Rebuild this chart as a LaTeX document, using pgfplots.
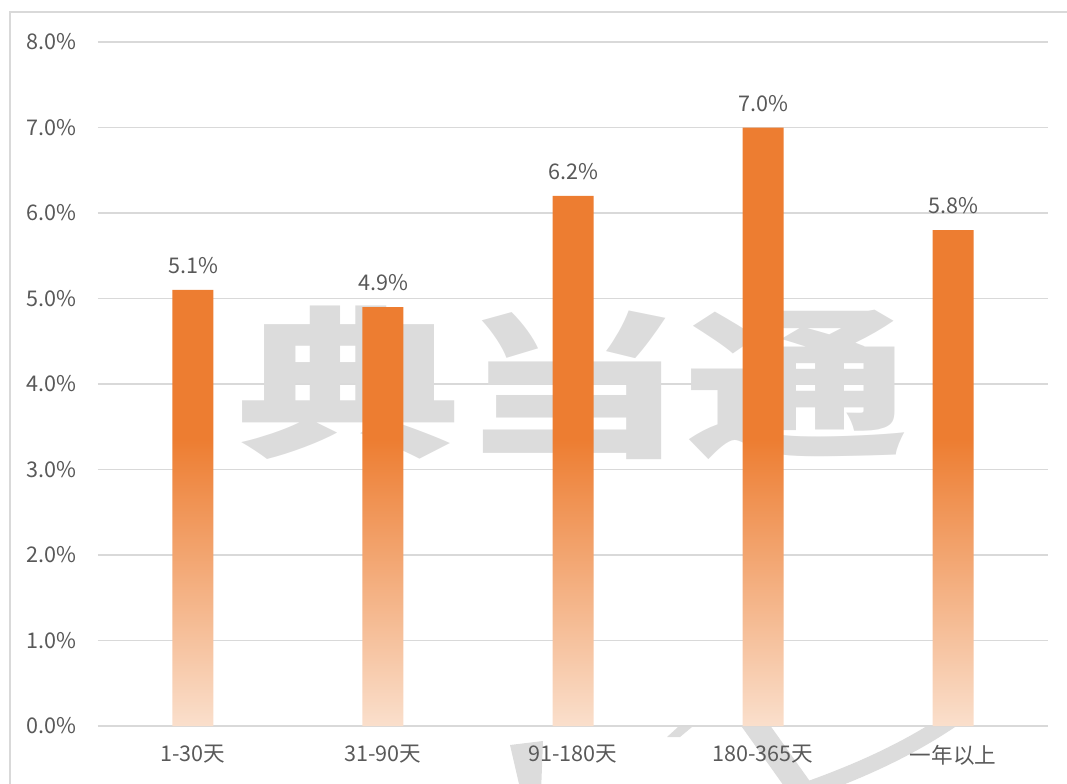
\documentclass[border=0pt]{standalone}
\usepackage{fontspec}
\setmainfont{Noto Sans CJK SC}
\usepackage{pgfplots}
\pgfplotsset{compat=1.18}

\definecolor{barorange}{HTML}{ED7D31}
\definecolor{barlight}{HTML}{FADFCC}
\definecolor{gridgray}{HTML}{D9D9D9}
\definecolor{txtgray}{HTML}{595959}
\definecolor{wmgray}{HTML}{DCDCDC}

% orange at the top, fading out over the lower half of every bar
\pgfdeclareverticalshading{barfade}{100bp}{color(0bp)=(barlight); color(25bp)=(barlight); color(49bp)=(barorange); color(100bp)=(barorange)}

\newcommand{\lblfont}{\fontsize{16.2}{19}\selectfont}

\begin{document}
\begin{tikzpicture}[x=1pt,y=1pt]
% the axis box sits at the origin; page is 800.25pt x 587.25pt
\path[use as bounding box] (-73.5,-42.75) rectangle (726.75,544.5);
% outer frame (runs off the right and bottom edge)
\draw[gridgray, line width=1.1pt] (-66,-62.75) -- (-66,535.5) -- (760,535.5);
% bits of the watermark logo below the axis line
\begin{scope}
\clip (-80,-60) rectangle (740,-0.6);
\fill[wmgray] (309,-14.25) -- (333.75,-11.25) -- (332.25,-50) -- (317.25,-50) -- cycle;
\fill[wmgray] (435,-0.75) -- (445.5,-0.75) -- (436.5,-8.25) -- (426.75,-8.25) -- cycle;
\fill[wmgray] (481,2) -- (503,2) -- (540,-50) -- (518,-50) -- cycle;
\draw[wmgray, line width=12pt] (520,-52) .. controls (564,-37) and (605,-19.5) .. (642,6);
\end{scope}

\begin{axis}[
    scale only axis,
    width=712.5pt, height=513pt,
    xmin=-0.5, xmax=4.5,
    ymin=0, ymax=8,
    axis line style={draw=none},
    major tick length=0pt,
    ymajorgrids,
    grid style={gridgray, line width=1pt},
    ytick={0,1,...,8},
    yticklabel={\pgfmathprintnumber[fixed,fixed zerofill,precision=1]{\tick}\%},
    xtick={0,1,2,3,4},
    xticklabels={1-30天,31-90天,91-180天,180-365天,一年以上},
    /pgf/number format/assume math mode=true,
    tick label style={font=\lblfont, text=txtgray},
    yticklabel style={xshift=-13pt},
    xticklabel style={yshift=-11pt},
    ybar, bar width=30.75pt,
    nodes near coords={\pgfmathprintnumber[fixed,fixed zerofill,precision=1]{\pgfplotspointmeta}\%},
    nodes near coords style={font=\lblfont, text=txtgray, anchor=south, yshift=8.5pt},
    clip=false,
]
\node[text=wmgray, font=\fontsize{121}{121}\selectfont\bfseries, xscale=1.39] at (axis cs:2,4.02) {典当通};
\addplot[draw=none, shade, shading=barfade] coordinates {
    (0,5.1) (1,4.9) (2,6.2) (3,7.0) (4,5.8)};
\end{axis}
\end{tikzpicture}
\end{document}
